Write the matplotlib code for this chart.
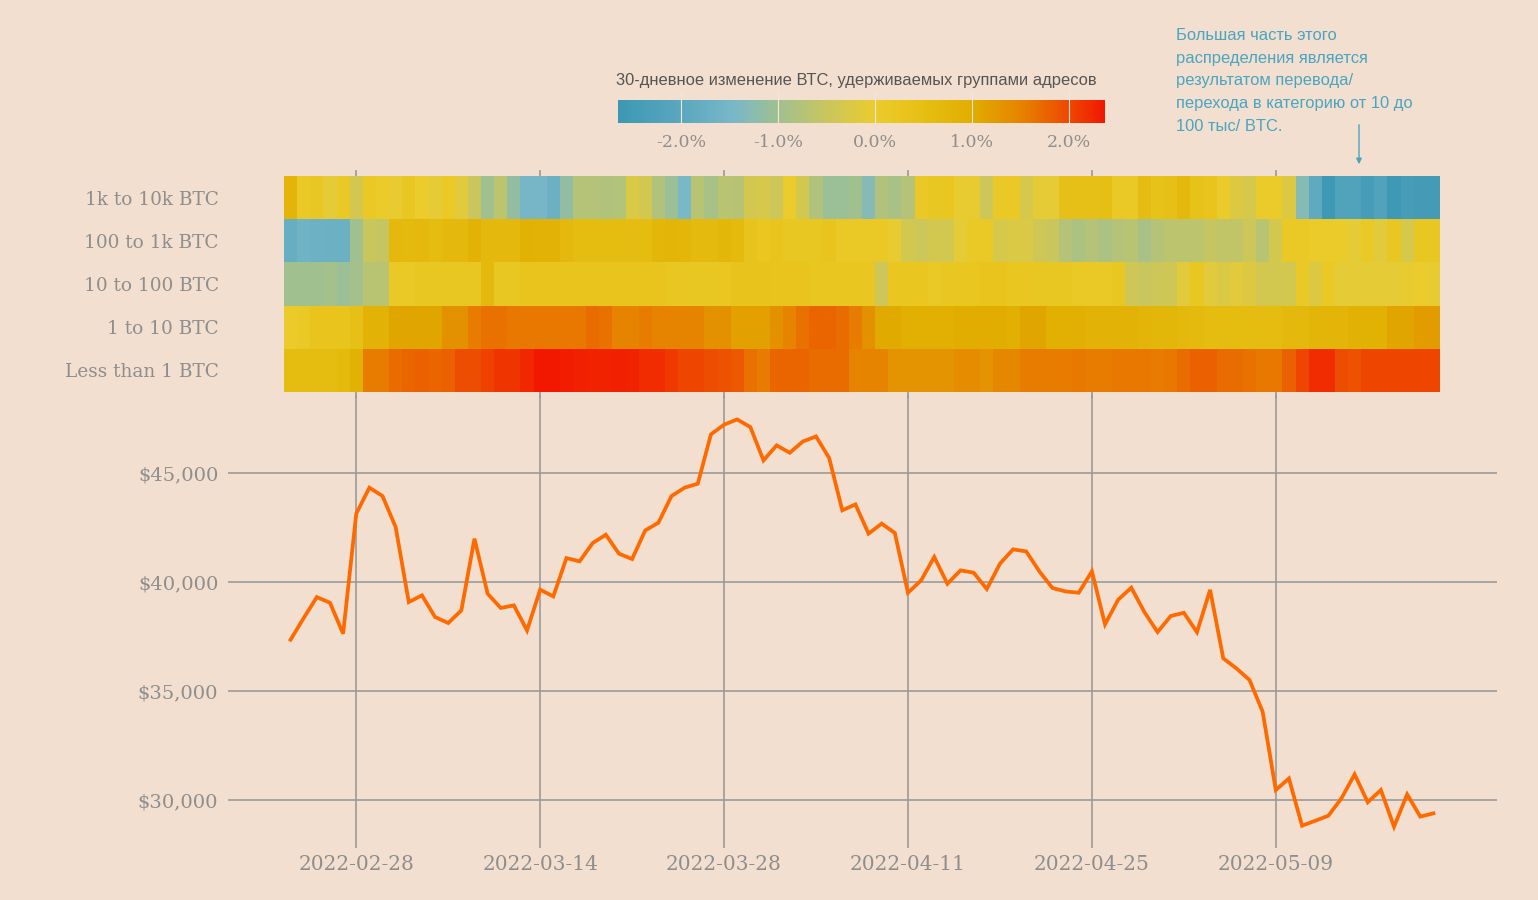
import matplotlib
matplotlib.use('Agg')
import matplotlib.pyplot as plt
import matplotlib.dates as mdates
import numpy as np
import pandas as pd
from matplotlib.colors import LinearSegmentedColormap, Normalize
from matplotlib.ticker import StrMethodFormatter, FixedLocator

# Daily data, 2022-02-23 .. 2022-05-21
dates = pd.date_range('2022-02-23', '2022-05-21', freq='D')
groups = ['1k to 10k BTC', '100 to 1k BTC', '10 to 100 BTC', '1 to 10 BTC', 'Less than 1 BTC']

# 30-day change (%) held by each address group
chg_1k_10k = [0.8, 0.1, 0.2, -0.1, 0.15, -0.35, 0.1, 0.05, -0.05, 0.2, 0.0, -0.1, 0.1, -0.15, -0.5,
              -1.0, -0.65, -1.15, -1.5, -1.5, -1.7, -1.15, -0.75, -0.75, -0.8, -0.78, -0.25, -0.35, -0.8, -1.05,
              -1.45, -0.7, -0.9, -0.7, -0.72, -0.35, -0.3, -0.45, 0.0, -0.35, -0.8, -1.05, -1.05, -1.0, -1.3,
              -0.8, -0.9, -0.75, 0.1, 0.2, 0.25, -0.05, -0.05, -0.45, 0.1, 0.1, -0.3, -0.1, -0.1, 0.45,
              0.45, 0.45, 0.5, 0.1, 0.1, 0.55, 0.4, 0.45, 0.7, 0.4, 0.3, 0.05, -0.2, -0.3, 0.05,
              0.05, -0.2, -1.3, -1.9, -2.6, -2.2, -2.2, -2.4, -2.2, -2.6, -2.4, -2.5, -2.5]
chg_100_1k = [-1.75, -1.6, -1.65, -1.7, -1.7, -1.0, -0.5, -0.55, 0.7, 0.65, 0.7, 0.6, 0.7, 0.7, 0.85,
              0.7, 0.7, 0.7, 0.9, 0.85, 0.85, 0.7, 0.6, 0.6, 0.6, 0.6, 0.55, 0.6, 0.75, 0.8,
              0.75, 0.65, 0.65, 0.75, 0.65, 0.35, 0.25, 0.3, 0.2, 0.2, 0.2, 0.3, 0.15, 0.1, 0.15,
              0.15, -0.05, -0.35, -0.45, -0.35, -0.35, -0.1, 0.1, 0.1, -0.3, -0.25, -0.25, -0.4, -0.5, -0.75,
              -0.85, -0.75, -0.85, -0.75, -0.7, -0.9, -0.75, -0.65, -0.65, -0.65, -0.55, -0.6, -0.6, -0.45, -0.7,
              -0.35, 0.1, 0.1, 0.05, 0.05, 0.05, -0.1, 0.15, -0.15, 0.2, -0.3, 0.2, 0.2]
chg_10_100 = [-1.0, -1.0, -1.0, -0.95, -1.05, -0.95, -0.7, -0.7, 0.1, 0.1, 0.2, 0.2, 0.2, 0.2, 0.2,
              0.7, 0.2, 0.2, 0.3, 0.3, 0.3, 0.3, 0.3, 0.3, 0.3, 0.3, 0.3, 0.3, 0.3, 0.25,
              0.2, 0.2, 0.2, 0.25, 0.35, 0.35, 0.35, 0.3, 0.3, 0.3, 0.25, 0.25, 0.25, 0.25, 0.25,
              -0.45, 0.25, 0.25, 0.25, 0.15, 0.2, 0.25, 0.25, 0.3, 0.3, 0.25, 0.25, 0.2, 0.2, 0.2,
              0.15, 0.15, 0.15, 0.2, -0.4, -0.5, -0.45, -0.4, -0.15, 0.2, -0.15, -0.25, -0.15, -0.2, -0.35,
              -0.35, -0.35, 0.1, -0.2, 0.1, -0.1, -0.1, -0.1, -0.1, -0.1, -0.05, 0.0, -0.05]
chg_1_10 = [0.05, 0.1, 0.3, 0.3, 0.3, 0.45, 0.85, 0.85, 1.1, 1.1, 1.1, 1.1, 1.35, 1.35, 1.55,
            1.65, 1.65, 1.6, 1.6, 1.6, 1.6, 1.6, 1.6, 1.7, 1.65, 1.5, 1.5, 1.55, 1.5, 1.5,
            1.5, 1.5, 1.35, 1.35, 1.15, 1.15, 1.15, 1.35, 1.5, 1.65, 1.75, 1.75, 1.7, 1.55, 1.35,
            1.05, 1.05, 0.95, 0.95, 0.95, 0.95, 1.0, 1.0, 1.0, 1.0, 0.95, 1.1, 1.1, 0.95, 0.95,
            0.95, 0.85, 0.85, 0.85, 0.85, 0.8, 0.75, 0.75, 0.7, 0.65, 0.6, 0.6, 0.6, 0.6, 0.6,
            0.6, 0.7, 0.7, 0.8, 0.8, 0.8, 0.9, 0.9, 0.9, 1.1, 1.1, 1.2, 1.2]
chg_lt_1 = [0.6, 0.6, 0.6, 0.6, 0.65, 0.9, 1.55, 1.55, 1.7, 1.75, 1.8, 1.75, 1.8, 1.95, 1.95,
            2.05, 2.15, 2.15, 2.25, 2.37, 2.37, 2.32, 2.3, 2.28, 2.28, 2.3, 2.28, 2.2, 2.2, 2.1,
            2.0, 2.0, 1.95, 1.9, 1.85, 1.65, 1.55, 1.75, 1.75, 1.75, 1.7, 1.7, 1.7, 1.5, 1.5,
            1.5, 1.3, 1.3, 1.3, 1.3, 1.3, 1.4, 1.4, 1.3, 1.45, 1.45, 1.55, 1.55, 1.55, 1.55,
            1.6, 1.55, 1.55, 1.6, 1.6, 1.6, 1.55, 1.6, 1.7, 1.8, 1.8, 1.7, 1.7, 1.65, 1.6,
            1.6, 1.8, 2.0, 2.2, 2.2, 1.95, 1.9, 2.0, 2.0, 2.0, 2.0, 2.0, 2.0]

# BTC price, USD
price = [37355, 38350, 39310, 39050, 37630, 43135,
         44330, 43945, 42520, 39080, 39390, 38395, 38120, 38700, 41990, 39465,
         38810, 38930, 37780, 39650, 39340, 41100, 40950, 41790, 42170, 41300,
         41055, 42370, 42720, 43945, 44330, 44510, 46775, 47220, 47460, 47110, 45580,
         46270, 45930, 46450, 46680, 45690, 43290, 43560, 42220, 42680, 42250,
         39510, 40075, 41150, 39920, 40535, 40430, 39680, 40840, 41500, 41405,
         40490, 39725, 39570, 39510, 40490, 38060, 39190, 39740, 38620, 37705,
         38440, 38590, 37700, 39640, 36500, 36040, 35505, 34050, 30460, 30990,
         28820, 29050, 29280, 30080, 31180, 29900, 30460, 28780, 30260, 29240, 29390]

tick_dates = pd.date_range('2022-02-28', '2022-05-09', freq='14D')
price_ticks = [30000, 35000, 40000, 45000]
cbar_ticks = [-2.0, -1.0, 0.0, 1.0, 2.0]
cbar_range = (-2.65, 2.37)
cmap_stops = [(-2.65, '#3c98b4'), (-2.0, '#5ba7bf'), (-1.45, '#79b8c7'), (-1.0, '#a0c090'),
              (-0.5, '#c9c65e'), (0.0, '#ebcc2c'), (0.5, '#e6bf14'), (1.0, '#e0ae00'),
              (1.5, '#e68400'), (2.0, '#ee4800'), (2.37, '#f21800')]

cbar_title = '30-дневное изменение ВТС, удерживаемых группами адресов'
note = ('Большая часть этого\nраспределения является\nрезультатом перевода/\n'
        'перехода в категорию от 10 до\n100 тыс/ BTC.')

BG = '#f2dfcf'
GRAY = '#8e8e8e'
GRID = '#9a9a9a'
NOTE = '#4aa5c1'
SERIF = 'DejaVu Serif'
SANS = ['Liberation Sans', 'DejaVu Sans']

W, H = 1538, 900


def px_axes(fig, x0, y0, x1, y1):
    return fig.add_axes([x0 / W, 1 - y1 / H, (x1 - x0) / W, (y1 - y0) / H])


fig = plt.figure(figsize=(W / 100, H / 100), dpi=100, facecolor=BG)

lo, hi = cbar_range
cmap = LinearSegmentedColormap.from_list(
    'btc', [((v - lo) / (hi - lo), c) for v, c in cmap_stops])
norm = Normalize(vmin=lo, vmax=hi)

# heatmap
hx0, hx1 = 284, 1440
ax_h = px_axes(fig, hx0, 176, hx1, 392)
ax_h.set_facecolor(BG)
x = mdates.date2num(dates)
x_edges = np.append(x - 0.5, x[-1] + 0.5)
z = np.array([chg_1k_10k, chg_100_1k, chg_10_100, chg_1_10, chg_lt_1])
ax_h.pcolormesh(x_edges, np.arange(len(groups) + 1), z, cmap=cmap, norm=norm)
ax_h.set_xlim(x_edges[0], x_edges[-1])
ax_h.set_ylim(len(groups), 0)
ax_h.set_yticks(np.arange(len(groups)) + 0.5)
ax_h.set_yticklabels(groups, family=SERIF, fontsize=13.3, color=GRAY)
ax_h.tick_params(axis='y', length=0, pad=47)
ax_h.xaxis.set_major_locator(FixedLocator(mdates.date2num(tick_dates)))
ax_h.tick_params(axis='x', top=True, bottom=True, labelbottom=False, length=4,
                 color=GRID, width=1.2)
for s in ax_h.spines.values():
    s.set_visible(False)

# price line
lx0, lx1 = 228, 1497
ax_l = px_axes(fig, lx0, 395, lx1, 848)
ax_l.set_facecolor('none')
ppd = (hx1 - hx0) / (x_edges[-1] - x_edges[0])
ax_l.set_xlim(x_edges[0] - (hx0 - lx0) / ppd, x_edges[-1] + (lx1 - hx1) / ppd)
ax_l.set_ylim(27800, 48580)
ax_l.plot(x, price, color='#ff6a00', lw=2.7, solid_joinstyle='miter', zorder=3)
ax_l.set_xticks(mdates.date2num(tick_dates))
ax_l.set_xticklabels([d.strftime('%Y-%m-%d') for d in tick_dates])
ax_l.set_yticks(price_ticks)
ax_l.yaxis.set_major_formatter(StrMethodFormatter('${x:,.0f}'))
ax_l.grid(True, color=GRID, lw=1.2)
ax_l.tick_params(length=0, labelcolor=GRAY)
ax_l.tick_params(axis='y', pad=7, labelsize=14)
ax_l.tick_params(axis='x', pad=5, labelsize=14.5)
for lab in ax_l.get_xticklabels() + ax_l.get_yticklabels():
    lab.set_family(SERIF)
for s in ax_l.spines.values():
    s.set_visible(False)

# colorbar
ax_c = px_axes(fig, 618, 100, 1105, 123)
cb = fig.colorbar(plt.cm.ScalarMappable(norm=norm, cmap=cmap), cax=ax_c, orientation='horizontal')
cb.outline.set_visible(False)
cb.set_ticks(cbar_ticks)
cb.set_ticklabels([f'{t:.1f}%' for t in cbar_ticks])
ax_c.tick_params(axis='x', direction='in', length=23, width=0.8, color='#f4e6da',
                 labelcolor=GRAY, labelsize=12.5, pad=8)
for lab in ax_c.get_xticklabels():
    lab.set_family(SERIF)
fig.text((618 + 1095) / 2 / W, 1 - 80 / H, cbar_title, ha='center', va='center',
         family=SANS, fontsize=11.9, color='#555555')

# annotation
fig.text(1176 / W, 1 - 28 / H, note, ha='left', va='top', family=SANS,
         fontsize=11.9, color=NOTE, linespacing=1.64)
ax_l.annotate('', xy=(1359 / W, 1 - 167 / H), xytext=(1359 / W, 1 - 122 / H),
              xycoords='figure fraction', textcoords='figure fraction',
              arrowprops=dict(arrowstyle='-|>', color=NOTE, lw=1.0, mutation_scale=8))

fig.savefig('out.png', dpi=100, facecolor=BG)
